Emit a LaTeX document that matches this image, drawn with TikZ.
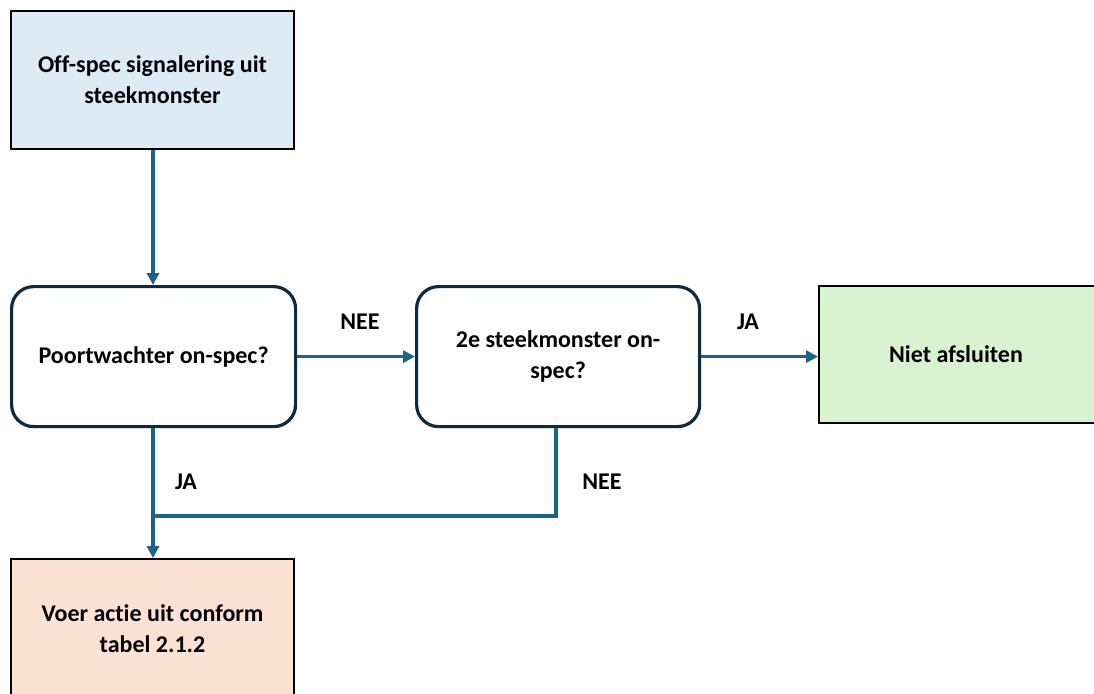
\documentclass[tikz,border=0pt]{standalone}
\usepackage{fontspec}
\setmainfont{Carlito}[Ligatures=NoCommon]
\usetikzlibrary{arrows.meta}
\definecolor{boxblue}{HTML}{DDEBF7}
\definecolor{boxgreen}{HTML}{D9F2D0}
\definecolor{boxsalmon}{HTML}{FBE2D5}
\definecolor{navy}{HTML}{0E2A3E}
\definecolor{flow}{HTML}{1B6388}
\tikzset{
  txt/.style={font=\bfseries\fontsize{24}{31}\selectfont, align=center, text=black},
  plainbox/.style={txt, draw=black, line width=2pt, anchor=north west, inner sep=0pt},
  decision/.style={txt, draw=navy, line width=3.2pt, rounded corners=22pt, fill=white, anchor=north west, inner sep=0pt},
  flowline/.style={draw=flow, line width=3.2pt},
  flowarrow/.style={flowline, -{Triangle[length=12pt,width=12pt]}},
  lbl/.style={font=\bfseries\fontsize{24}{31}\selectfont, text=black},
}
\begin{document}
\begin{tikzpicture}[x=1pt, y=-1pt]
  \useasboundingbox (0,0) rectangle (1094,693);

  % boxes
  \node[plainbox, fill=boxblue, minimum width=283pt, minimum height=138pt] (start) at (10,10)
    {Off-spec signalering uit\\steekmonster};
  \node[decision, minimum width=284pt, minimum height=140pt] (gate) at (10,285)
    {Poortwachter on-spec?};
  \node[decision, minimum width=283pt, minimum height=140pt] (second) at (415,285)
    {2e steekmonster on-\\spec?};
  \node[plainbox, fill=boxgreen, minimum width=278pt, minimum height=137pt] (keep) at (818,285)
    {\hspace*{-4pt}Niet afsluiten};
  \node[plainbox, fill=boxsalmon, minimum width=283pt, minimum height=140pt] (act) at (10,558)
    {Voer actie uit conform\\tabel 2.1.2};

  % junction point where both branches merge
  \coordinate (merge) at (153,516);
  \coordinate (corner) at (556,516);

  % connectors
  \draw[flowarrow] (start.south -| merge) -- (gate.north -| merge);
  \draw[flowarrow] (gate.east) -- (gate.east -| second.west);
  \draw[flowarrow] (second.east) -- (second.east -| keep.west);
  \draw[flowarrow] (gate.south -| merge) -- (act.north -| merge);
  \draw[flowline] (second.south -| corner) -- (corner) -- (merge);

  % branch labels
  \node[lbl] (l1) at (360,322) {NEE};
  \node[lbl] (l2) at (748,322) {JA};
  \node[lbl] (l3) at (186,482) {JA};
  \node[lbl] (l4) at (602,482) {NEE};
\end{tikzpicture}
\end{document}
